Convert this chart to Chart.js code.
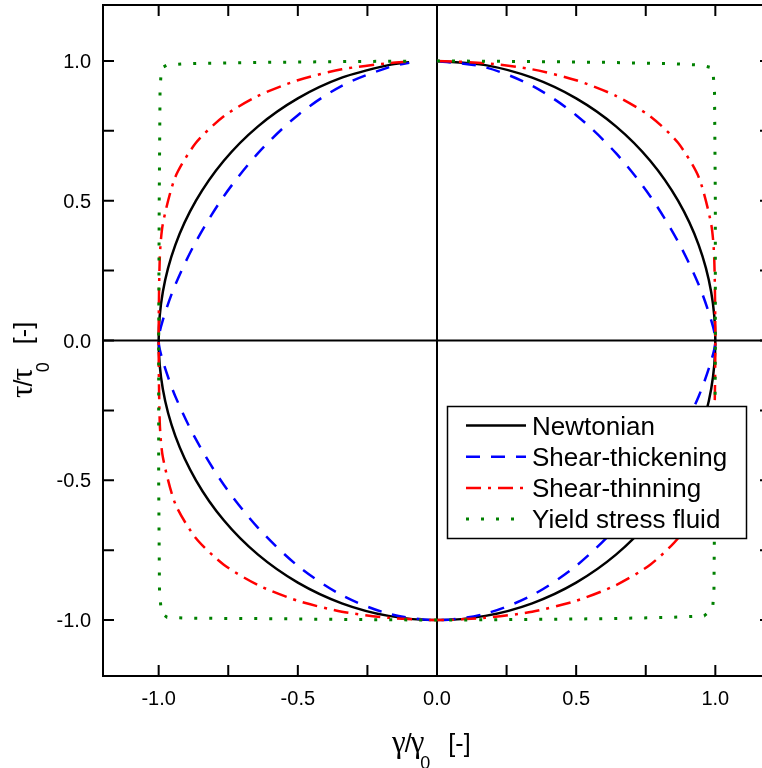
<!DOCTYPE html>
<html>
<head>
<meta charset="utf-8">
<script src="https://cdn.jsdelivr.net/npm/chart.js@4.4.1/dist/chart.umd.min.js"></script>
<style>
  html, body { margin: 0; padding: 0; background: #fff; overflow: hidden; }
  #wrap { width: 762px; height: 768px; overflow: hidden; }
</style>
</head>
<body>
<div id="wrap"><canvas id="lissajous" width="780" height="768"></canvas></div>
<script>
// normalised strain (x) and stress (y), clockwise from (0, 1)
const newtonianX = [0, 0.174, 0.342, 0.5, 0.643, 0.766, 0.866, 0.94, 0.985, 1, 0.985, 0.94, 0.866, 0.766, 0.643, 0.5, 0.342, 0.174, 0,
  -0.174, -0.342, -0.5, -0.643, -0.766, -0.866, -0.94, -0.985, -1, -0.985, -0.94, -0.866, -0.766, -0.643, -0.5, -0.342, -0.174, -0.1];
const newtonianY = [1, 0.985, 0.94, 0.866, 0.766, 0.643, 0.5, 0.342, 0.174, 0, -0.174, -0.342, -0.5, -0.643, -0.766, -0.866, -0.94, -0.985, -1,
  -0.985, -0.94, -0.866, -0.766, -0.643, -0.5, -0.342, -0.174, 0, 0.174, 0.342, 0.5, 0.643, 0.766, 0.866, 0.94, 0.985, 0.995];

const thickeningX = [0, 0.174, 0.342, 0.5, 0.643, 0.766, 0.866, 0.94, 0.985, 1, 0.985, 0.94, 0.866, 0.766, 0.643, 0.5, 0.342, 0.174, 0,
  -0.174, -0.342, -0.5, -0.643, -0.766, -0.866, -0.94, -0.985, -1, -0.985, -0.94, -0.866, -0.766, -0.643, -0.5, -0.342, -0.174, -0.1];
const thickeningY = [1, 0.977, 0.911, 0.806, 0.67, 0.516, 0.354, 0.2, 0.073, 0, -0.073, -0.2, -0.354, -0.516, -0.67, -0.806, -0.911, -0.977, -1,
  -0.977, -0.911, -0.806, -0.67, -0.516, -0.354, -0.2, -0.073, 0, 0.073, 0.2, 0.354, 0.516, 0.67, 0.806, 0.911, 0.977, 0.993];

const thinningX = [0, 0.174, 0.342, 0.5, 0.643, 0.766, 0.866, 0.94, 0.985, 0.996, 1, 0.996, 0.985, 0.94, 0.866, 0.766, 0.643, 0.5, 0.342, 0.174, 0,
  -0.174, -0.342, -0.5, -0.643, -0.766, -0.866, -0.94, -0.985, -0.996, -1, -0.996, -0.985, -0.94, -0.866, -0.766, -0.643, -0.5, -0.342, -0.174, -0.1];
const thinningY = [1, 0.992, 0.97, 0.931, 0.875, 0.802, 0.707, 0.585, 0.417, 0.295, 0, -0.295, -0.417, -0.585, -0.707, -0.802, -0.875, -0.931, -0.97, -0.992, -1,
  -0.992, -0.97, -0.931, -0.875, -0.802, -0.707, -0.585, -0.417, -0.295, 0, 0.295, 0.417, 0.585, 0.707, 0.802, 0.875, 0.931, 0.97, 0.992, 0.997];

const yieldX = [0, 0.3, 0.6, 0.85, 0.95, 0.99, 0.997, 1, 1, 0.998, 0.995, 0.99, 0.96, 0.85, 0.6, 0.3, 0,
  -0.3, -0.6, -0.9, -0.97, -0.99, -0.997, -1, -1, -0.998, -0.995, -0.99, -0.97, -0.9, -0.6, -0.3, -0.1];
const yieldY = [1, 0.998, 0.995, 0.99, 0.985, 0.975, 0.9, 0.5, 0, -0.5, -0.9, -0.96, -0.985, -0.99, -0.995, -0.998, -1,
  -0.998, -0.995, -0.993, -0.99, -0.975, -0.9, -0.5, 0, 0.5, 0.9, 0.975, 0.985, 0.99, 0.995, 0.998, 0.999];

const seriesNames = ['Newtonian', 'Shear-thickening', 'Shear-thinning', 'Yield stress fluid'];
const tickValues = [-1, -0.75, -0.5, -0.25, 0, 0.25, 0.5, 0.75, 1];
const labelValues = [-1, -0.5, 0, 0.5, 1];

const toPoints = (xs, ys) => xs.map((x, i) => ({ x: x, y: ys[i] }));

const SANS = '"Liberation Sans", Arial, sans-serif';
const SERIF = '"Liberation Serif", "Times New Roman", serif';

const series = [
  { data: toPoints(newtonianX, newtonianY), color: '#000000', dash: [], width: 2.5, tension: 0.3, order: 4 },
  { data: toPoints(thickeningX, thickeningY), color: '#0000ff', dash: [14, 11], width: 2.5, tension: 0.3, order: 3 },
  { data: toPoints(thinningX, thinningY), color: '#ff0000', dash: [15, 7, 3, 7], width: 2.5, tension: 0.25, order: 2 },
  { data: toPoints(yieldX, yieldY), color: '#008000', dash: [3, 12], width: 3, tension: 0, order: 1 },
];

// title like  γ/γ0 [-]  drawn from the current origin
const drawTitle = (ctx, sym) => {
  let x = 0;
  ctx.textAlign = 'left';
  ctx.textBaseline = 'alphabetic';
  ctx.font = '31px ' + SERIF;
  ctx.fillText(sym, x, 0); x += ctx.measureText(sym).width;
  ctx.font = '25px ' + SANS;
  ctx.fillText('/', x - 1, 0); x += ctx.measureText('/').width - 2;
  ctx.font = '31px ' + SERIF;
  ctx.fillText(sym, x, 0); x += ctx.measureText(sym).width;
  ctx.font = '18px ' + SANS;
  ctx.fillText('0', x - 4, 17); x += ctx.measureText('0').width;
  ctx.font = '25px ' + SANS;
  ctx.fillText('[-]', x + 14, 0);
};

const framePlugin = {
  id: 'framePlugin',
  beforeDatasetsDraw(chart) {
    const { ctx, chartArea: a, scales: { x, y } } = chart;
    const x0 = x.getPixelForValue(0);
    const y0 = y.getPixelForValue(0);
    ctx.save();
    ctx.strokeStyle = '#000';
    ctx.lineWidth = 2;
    ctx.beginPath();
    ctx.moveTo(x0, a.top); ctx.lineTo(x0, a.bottom);
    ctx.moveTo(a.left, y0); ctx.lineTo(a.right, y0);
    ctx.stroke();
    ctx.restore();
  },
  afterDraw(chart) {
    const { ctx, chartArea: a, scales: { x, y } } = chart;
    ctx.save();
    ctx.strokeStyle = '#000';
    ctx.fillStyle = '#000';
    ctx.lineWidth = 2;
    ctx.strokeRect(a.left, a.top, a.right - a.left, a.bottom - a.top);

    // inward ticks on all four sides
    const len = 11;
    ctx.beginPath();
    tickValues.forEach(v => {
      const px = x.getPixelForValue(v);
      const py = y.getPixelForValue(v);
      ctx.moveTo(px, a.bottom); ctx.lineTo(px, a.bottom - len);
      ctx.moveTo(px, a.top); ctx.lineTo(px, a.top + len);
      ctx.moveTo(a.left, py); ctx.lineTo(a.left + len, py);
      ctx.moveTo(a.right, py); ctx.lineTo(a.right - len, py);
    });
    ctx.stroke();

    ctx.font = '20px ' + SANS;
    labelValues.forEach(v => {
      ctx.textAlign = 'center';
      ctx.textBaseline = 'alphabetic';
      ctx.fillText(v.toFixed(1), x.getPixelForValue(v), 705);
      ctx.textAlign = 'right';
      ctx.textBaseline = 'alphabetic';
      ctx.fillText(v.toFixed(1), 91, y.getPixelForValue(v) + 7);
    });

    // axis titles
    ctx.save();
    ctx.translate(392, 752);
    drawTitle(ctx, 'γ');
    ctx.restore();
    ctx.save();
    ctx.translate(32, 398);
    ctx.rotate(-Math.PI / 2);
    drawTitle(ctx, 'τ');
    ctx.restore();

    // legend box
    const lx = 447.5, ly = 406.5, lw = 299, lh = 132;
    ctx.fillStyle = '#fff';
    ctx.fillRect(lx, ly, lw, lh);
    ctx.lineWidth = 1.5;
    ctx.strokeRect(lx, ly, lw, lh);
    ctx.font = '26px ' + SANS;
    ctx.textAlign = 'left';
    ctx.textBaseline = 'alphabetic';
    seriesNames.forEach((name, i) => {
      const s = series[i];
      const rowY = 425.5 + i * 31.2;
      ctx.strokeStyle = s.color;
      ctx.lineWidth = s.width;
      ctx.setLineDash(s.dash);
      ctx.beginPath();
      ctx.moveTo(466, rowY); ctx.lineTo(526, rowY);
      ctx.stroke();
      ctx.setLineDash([]);
      ctx.fillStyle = '#000';
      ctx.fillText(name, 532, rowY + 9);
    });
    ctx.restore();
  }
};

new Chart(document.getElementById('lissajous'), {
  type: 'scatter',
  data: {
    datasets: series.map((s, i) => ({
      label: seriesNames[i],
      data: s.data,
      showLine: true,
      borderColor: s.color,
      borderWidth: s.width,
      borderDash: s.dash,
      tension: s.tension,
      pointRadius: 0,
      fill: false,
      order: s.order,
    })),
  },
  options: {
    responsive: false,
    animation: false,
    devicePixelRatio: 1,
    layout: { padding: { left: 103, top: 5, right: 9, bottom: 92 } },
    scales: {
      x: { type: 'linear', min: -1.2, max: 1.2, display: false },
      y: { type: 'linear', min: -1.2, max: 1.2, display: false },
    },
    plugins: {
      legend: { display: false },
      tooltip: { enabled: false },
    },
  },
  plugins: [framePlugin],
});
</script>
</body>
</html>
